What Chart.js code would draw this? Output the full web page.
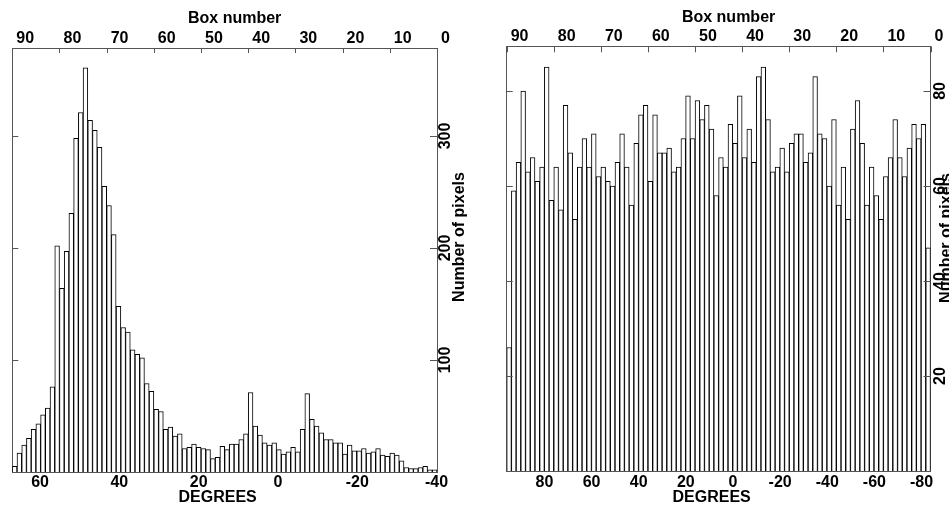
<!DOCTYPE html>
<html>
<head>
<meta charset="utf-8">
<script src="https://cdn.jsdelivr.net/npm/chart.js@4.4.1/dist/chart.umd.min.js"></script>
<style>
  html, body { margin: 0; padding: 0; background: #fff; }
  .panel { position: absolute; top: 0; height: 506px; }
  #p1 { left: 0; width: 480px; }
  #p2 { left: 480px; width: 469px; }
</style>
</head>
<body>
<div class="panel" id="p1"><canvas id="leftChart"></canvas></div>
<div class="panel" id="p2"><canvas id="rightChart"></canvas></div>
<script>
// boxes run from 90 at the left edge down to 1 at the right edge
var boxes = [90, 89, 88, 87, 86, 85, 84, 83, 82, 81, 80, 79, 78, 77, 76, 75, 74, 73, 72, 71,
    70, 69, 68, 67, 66, 65, 64, 63, 62, 61, 60, 59, 58, 57, 56, 55, 54, 53, 52, 51,
    50, 49, 48, 47, 46, 45, 44, 43, 42, 41, 40, 39, 38, 37, 36, 35, 34, 33, 32, 31,
    30, 29, 28, 27, 26, 25, 24, 23, 22, 21, 20, 19, 18, 17, 16, 15, 14, 13, 12, 11,
    10, 9, 8, 7, 6, 5, 4, 3, 2, 1];

var leftCounts = [5, 17, 24, 30, 38, 43, 51, 57, 76, 202,
    164, 197, 231, 298, 321, 361, 314, 305, 290, 255,
    238, 212, 148, 129, 125, 109, 105, 102, 79, 72,
    56, 54, 38, 40, 32, 34, 21, 22, 25, 22,
    21, 20, 12, 13, 23, 20, 25, 25, 29, 34,
    71, 41, 33, 26, 24, 26, 20, 16, 18, 22,
    18, 38, 70, 47, 41, 35, 29, 29, 26, 26,
    16, 24, 19, 19, 21, 17, 18, 21, 15, 14,
    17, 15, 10, 4, 3, 3, 4, 5, 2, 2];

var rightCounts = [26, 59, 65, 80, 63, 66, 61, 64, 85, 57,
    64, 55, 77, 67, 53, 64, 70, 64, 71, 62,
    64, 61, 60, 65, 71, 64, 56, 69, 75, 77,
    61, 75, 67, 67, 68, 63, 64, 70, 79, 70,
    78, 74, 77, 72, 58, 66, 64, 73, 69, 79,
    66, 72, 65, 83, 85, 74, 63, 64, 68, 63,
    69, 71, 71, 65, 67, 83, 71, 70, 60, 74,
    56, 64, 53, 72, 78, 69, 56, 64, 58, 53,
    62, 66, 74, 66, 62, 68, 73, 70, 73, 47];

var boxTicks = [90, 80, 70, 60, 50, 40, 30, 20, 10, 0];
var leftDegTicks = [60, 40, 20, 0, -20, -40];
var rightDegTicks = [80, 60, 40, 20, 0, -20, -40, -60, -80];
var leftCountTicks = [100, 200, 300];
var rightCountTicks = [20, 40, 60, 80];

var fontFamily = '"Liberation Sans", Arial, Helvetica, sans-serif';
var axisColor = '#555';

function fixedTicks(values) {
    return function (scale) {
        scale.ticks = values.map(function (v) { return { value: v }; });
    };
}

// inward tick marks, rotated right-hand labels and the axis titles
var panelText = {
    id: 'panelText',
    afterDraw: function (chart, args, o) {
        var ctx = chart.ctx, a = chart.chartArea;
        var top = chart.scales.xTop, yR = chart.scales.y;
        ctx.save();
        ctx.strokeStyle = axisColor;
        ctx.lineWidth = 1;
        ctx.beginPath();
        top.ticks.forEach(function (t) {
            var x = Math.round(top.getPixelForValue(t.value)) + 0.5;
            ctx.moveTo(x, a.top);
            ctx.lineTo(x, a.top + o.topTick);
        });
        yR.ticks.forEach(function (t) {
            var y = Math.round(yR.getPixelForValue(t.value)) + 0.5;
            ctx.moveTo(a.left, y);
            ctx.lineTo(a.left + o.leftTick, y);
            ctx.moveTo(a.right, y);
            ctx.lineTo(a.right - o.rightTick, y);
        });
        ctx.stroke();

        ctx.fillStyle = '#000';
        ctx.font = 'bold 16px ' + fontFamily;
        ctx.textBaseline = 'alphabetic';
        ctx.textAlign = 'center';
        var cx = (a.left + a.right) / 2;
        ctx.fillText(o.topTitle, cx + o.topTitleDx, o.topTitleY);
        ctx.fillText(o.bottomTitle, cx + o.bottomTitleDx, o.bottomTitleY);

        yR.ticks.forEach(function (t) {
            ctx.save();
            ctx.translate(a.right + o.labelX, yR.getPixelForValue(t.value));
            ctx.rotate(-Math.PI / 2);
            ctx.fillText(String(t.value), 0, 0);
            ctx.restore();
        });
        ctx.save();
        ctx.translate(a.right + o.titleX, o.sideTitleY);
        ctx.rotate(-Math.PI / 2);
        ctx.fillText(o.sideTitle, 0, 0);
        ctx.restore();
        ctx.restore();
    }
};

function makePanel(id, counts, p) {
    var tickFont = { family: fontFamily, size: 16, weight: 'bold' };
    return new Chart(document.getElementById(id), {
        type: 'bar',
        data: {
            labels: boxes,
            datasets: [{
                data: counts,
                backgroundColor: '#fff',
                borderColor: '#000',
                borderWidth: { top: 1, left: 1, right: 1, bottom: 0 },
                barPercentage: 1,
                categoryPercentage: 1
            }]
        },
        options: {
            responsive: true,
            maintainAspectRatio: false,
            animation: false,
            layout: { padding: 0 },
            plugins: {
                legend: { display: false },
                tooltip: { enabled: false },
                panelText: p.text
            },
            scales: {
                x: { display: false },
                xTop: {
                    type: 'linear', position: 'top', min: 0, max: 90, reverse: true, offset: false,
                    afterBuildTicks: fixedTicks(boxTicks),
                    afterFit: function (s) { s.height = p.topH; },
                    grid: { display: false, drawTicks: false, offset: false },
                    border: { display: true, color: axisColor, width: 1 },
                    ticks: { color: '#000', font: tickFont, padding: p.topPad, align: 'start', labelOffset: 4, autoSkip: false, maxRotation: 0 }
                },
                xBottom: {
                    type: 'linear', position: 'bottom', min: p.degMin, max: p.degMax, reverse: true, offset: false,
                    afterBuildTicks: fixedTicks(p.degTicks),
                    afterFit: function (s) { s.height = p.bottomH; },
                    grid: { display: false, drawTicks: false, offset: false },
                    border: { display: true, color: axisColor, width: 1 },
                    ticks: { color: '#000', font: tickFont, padding: p.bottomPad, autoSkip: false, maxRotation: 0 }
                },
                yLeft: {
                    type: 'linear', position: 'left', min: 0, max: p.yMax,
                    afterFit: function (s) { s.width = p.leftW; },
                    grid: { display: false, drawTicks: false },
                    border: { display: true, color: axisColor, width: 1 },
                    ticks: { display: false }
                },
                y: {
                    type: 'linear', position: 'right', min: 0, max: p.yMax,
                    afterBuildTicks: fixedTicks(p.countTicks),
                    afterFit: function (s) { s.width = p.rightW; },
                    grid: { display: false, drawTicks: false },
                    border: { display: true, color: axisColor, width: 1 },
                    ticks: { display: false }
                }
            }
        },
        plugins: [panelText]
    });
}

makePanel('leftChart', leftCounts, {
    topH: 48, bottomH: 34, leftW: 12.3, rightW: 43,
    topPad: 0, bottomPad: 1,
    yMax: 378.6, countTicks: leftCountTicks,
    degMin: -40.1, degMax: 67, degTicks: leftDegTicks,
    text: {
        topTick: 5, leftTick: 6, rightTick: 7,
        topTitle: 'Box number', topTitleDx: 10, topTitleY: 23,
        bottomTitle: 'DEGREES', bottomTitleDx: -7, bottomTitleY: 501.5,
        sideTitle: 'Number of pixels', sideTitleY: 237,
        labelX: 13, titleX: 26.5
    }
});

makePanel('rightChart', rightCounts, {
    topH: 46.3, bottomH: 35, leftW: 26.7, rightW: 18.5,
    topPad: 0, bottomPad: 2,
    yMax: 89.4, countTicks: rightCountTicks,
    degMin: -83.8, degMax: 96, degTicks: rightDegTicks,
    text: {
        topTick: 6, leftTick: 6, rightTick: 7,
        topTitle: 'Box number', topTitleDx: 10, topTitleY: 22,
        bottomTitle: 'DEGREES', bottomTitleDx: -7, bottomTitleY: 501.5,
        sideTitle: 'Number of pixels', sideTitleY: 238,
        labelX: 14.5, titleX: 20.5
    }
});
</script>
</body>
</html>
